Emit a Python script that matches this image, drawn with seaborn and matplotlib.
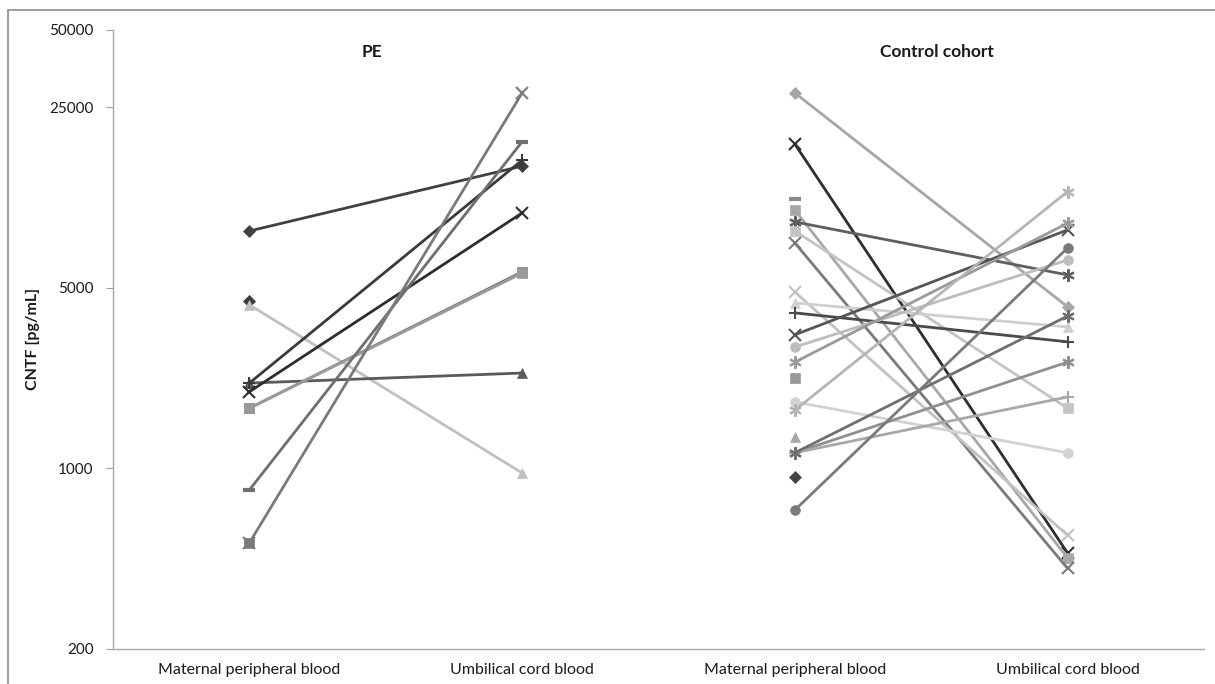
import numpy as np
import pandas as pd
import matplotlib
matplotlib.use("Agg")
import matplotlib.pyplot as plt
import seaborn as sns
from matplotlib.ticker import FixedLocator, FixedFormatter, NullLocator
from matplotlib.patches import Rectangle
from matplotlib.transforms import blended_transform_factory

nan = np.nan

# Sampling sites along the x axis (two per cohort)
sites = ["Maternal peripheral blood", "Umbilical cord blood",
         "Maternal peripheral blood", "Umbilical cord blood"]
cohorts = ["PE", "Control cohort"]
y_ticks = [200, 1000, 5000, 25000, 50000]

# CNTF concentrations [pg/mL], one entry per subject
pe_maternal = [8300, 4450, 4300, 2140, 2140, 1980, 1710, 1710, 825, 515, 515]
pe_cord = [14800, nan, 960, 2340, 15600, 9750, 5770, 5700, 18400, 28400, nan]

ctrl_maternal = [28400, 18000, 10000, 9000, 8300, 7460, 4820, 4370, 4000,
                 3290, 2950, 2580, 1810, 1680, 1150, 1150, 1150, 690,
                 930, 1320, 2240, 11000]
ctrl_cord = [4220, 470, 450, 5610, 1710, 410, 550, 3530, 3090,
             8380, 6410, 8900, 1150, 11800, 2580, 1890, 3890, 7140,
             nan, nan, nan, nan]

# Marker / grey shade per subject
AST = (6, 2, 0)
pe_markers = ["D", "D", "^", "^", "+", "x", "s", "s", "_", "x", "s"]
pe_shades = ["#404040", "#3a3a3a", "#c0c0c0", "#5a5a5a", "#3a3a3a", "#2e2e2e",
             "#7f7f7f", "#9a9a9a", "#6f6f6f", "#7a7a7a", "#7a7a7a"]
ctrl_markers = ["D", "x", "s", AST, "s", "x", "x", "^", "+",
                "x", "o", AST, "o", AST, AST, "+", AST, "o",
                "D", "^", "s", "_"]
ctrl_shades = ["#a6a6a6", "#2e2e2e", "#a8a8a8", "#5f5f5f", "#c4c4c4", "#7a7a7a",
               "#c2c2c2", "#cfcfcf", "#4a4a4a", "#555555", "#bdbdbd", "#9a9a9a",
               "#d2d2d2", "#b5b5b5", "#8f8f8f", "#a8a8a8", "#6f6f6f", "#7a7a7a",
               "#444444", "#a8a8a8", "#999999", "#8a8a8a"]

rows = []
for i, (a, b) in enumerate(zip(pe_maternal, pe_cord)):
    rows += [("pe", i, 0, a), ("pe", i, 1, b)]
for i, (a, b) in enumerate(zip(ctrl_maternal, ctrl_cord)):
    rows += [("ctrl", i, 2, a), ("ctrl", i, 3, b)]
df = pd.DataFrame(rows, columns=["cohort", "subject", "site", "cntf"])

sns.set_theme(style="white")
plt.rcParams["font.family"] = ["Lato", "DejaVu Sans"]

fig = plt.figure(figsize=(12.15, 6.84), dpi=100)
ax = fig.add_axes([113 / 1215, 1 - 649 / 684, (1204 - 113) / 1215, (649 - 29.5) / 684])

styles = {"pe": (pe_markers, pe_shades), "ctrl": (ctrl_markers, ctrl_shades)}
for (cohort, subj), sub in df.groupby(["cohort", "subject"], sort=False):
    markers, shades = styles[cohort]
    m, c = markers[subj], shades[subj]
    unfilled = m in ("x", "+", "_") or isinstance(m, tuple)
    ms = 9 if unfilled else 7
    if m == "D":
        ms = 6.5
    sns.lineplot(data=sub.dropna(), x="site", y="cntf", ax=ax, color=c,
                 linewidth=2.0, marker=m, markersize=ms,
                 markeredgecolor=c, markerfacecolor=c,
                 markeredgewidth=1.5 if unfilled else 0.5,
                 estimator=None, sort=False, legend=False)
    if m == "_":
        ax.lines[-1].set_markeredgewidth(3)

ax.set_yscale("log")
ax.set_ylim(200, 50000)
ax.set_xlim(-0.5, 3.5)
ax.yaxis.set_major_locator(FixedLocator(y_ticks))
ax.yaxis.set_major_formatter(FixedFormatter([str(t) for t in y_ticks]))
ax.yaxis.set_minor_locator(NullLocator())
ax.set_xticks(range(len(sites)))
ax.set_xticklabels(sites, fontsize=11.5, color="#1a1a1a")
ax.tick_params(axis="x", length=0, pad=10)
ax.tick_params(axis="y", length=5, width=0.8, color="#a0a0a0", left=True,
               pad=9, labelsize=11, labelcolor="#1a1a1a")
ax.set_xlabel("")
ax.set_ylabel("CNTF [pg/mL]", fontsize=11.5, fontweight="bold", color="#1a1a1a")
ax.yaxis.set_label_coords(-0.067, 0.5)
for side in ("top", "right"):
    ax.spines[side].set_visible(False)
for side in ("left", "bottom"):
    ax.spines[side].set_color("#a8a8a8")
    ax.spines[side].set_linewidth(1.0)

tr = blended_transform_factory(ax.transData, ax.transAxes)
ax.text(0.45, 0.964, cohorts[0], transform=tr, ha="center", va="center",
        fontsize=12.5, fontweight="bold", color="#1a1a1a")
ax.text(2.52, 0.964, cohorts[1], transform=tr, ha="center", va="center",
        fontsize=12.5, fontweight="bold", color="#1a1a1a")

fig.patches.append(Rectangle((8 / 1215, -0.1), 1.2, 1.1 - 10 / 684,
                             transform=fig.transFigure, fill=False,
                             edgecolor="#8c8c8c", linewidth=1.2))

fig.savefig("out.png", dpi=100)
